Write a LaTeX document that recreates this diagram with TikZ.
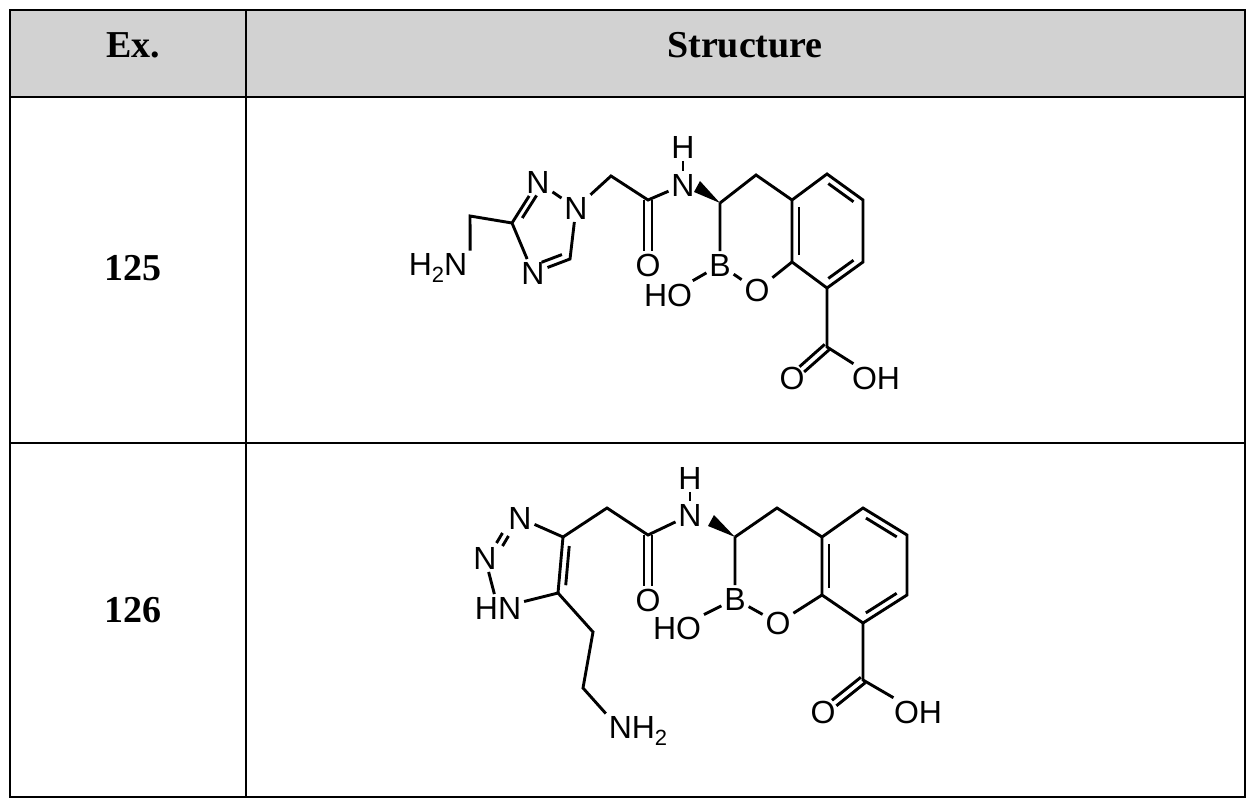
\documentclass[tikz,border=0pt]{standalone}
\usepackage{fontspec}
\setmainfont{Liberation Serif}
\newfontfamily\atomfont{Liberation Sans}
\usetikzlibrary{calc}
\newcommand{\subtwo}{\raisebox{-7pt}{\fontsize{22}{22}\selectfont 2}}
\begin{document}
\begin{tikzpicture}[x=1pt,y=-1pt,line width=2.9pt,
  atom/.style={font=\atomfont\fontsize{32}{32}\selectfont,inner sep=1.5pt},
  hdr/.style={font=\bfseries\fontsize{38}{38}\selectfont}]
\useasboundingbox (0,0) rectangle (1255,810);
% table
\fill[gray!35] (10,10) rectangle (1245,97);
\draw[line width=2pt] (10,10) rectangle (1245,797);
\draw[line width=2pt] (10,97) -- (1245,97) (10,443) -- (1245,443) (246,10) -- (246,797);
\node[hdr] (h1) at (133,45) {Ex.};
\node[hdr] (h2) at (745,45) {Structure};
\node[hdr] (e1) at (133,268) {125};
\node[hdr] (e2) at (133,610) {126};
% ---------- structure 125
\node[atom] (nh2a) at (438,268) {H\subtwo N};
\coordinate (ca1) at (470,216);
\coordinate (t3) at (512,223);
\node[atom] (n2) at (538,182) {N};
\node[atom] (n1) at (576,208) {N};
\coordinate (t5) at (570,259);
\node[atom] (n4) at (533,273) {N};
\coordinate (ca2) at (611,176);
\coordinate (co1) at (648,200);
\node[atom] (o1) at (648,265) {O};
\node[atom] (nam1) at (683,185) {N};
\node[atom] (ham1) at (683,147) {H};
\coordinate (c31) at (720,203);
\coordinate (c41) at (756,175);
\coordinate (a1) at (792,200);
\coordinate (a2) at (827,174);
\coordinate (a3) at (863,200);
\coordinate (a4) at (863,262);
\coordinate (a5) at (827,288);
\coordinate (a6) at (792,262);
\node[atom] (or1) at (757,290) {O};
\node[atom] (b1) at (720,265) {B};
\node[atom] (ho1) at (668,295) {HO};
\coordinate (cc1) at (827,347);
\node[atom] (oc1) at (792,378) {O};
\node[atom] (oh1) at (876,378) {OH};
\draw (nh2a.north east) -- (ca1) -- (t3) -- (n2) -- (n1) -- (t5) -- (n4) -- (t3);
\draw ($(t3)!.2!(n2)!6pt!-90:(n2)$) -- ($(t3)!.75!(n2)!6pt!-90:(n2)$);
\draw ($(t5)!.15!(n4)!7pt!-90:(n4)$) -- ($(t5)!.7!(n4)!7pt!-90:(n4)$);
\draw (n1) -- (ca2) -- (co1) -- (nam1);
\draw (644,200) -- (644,251) (652,200) -- (652,251);
\draw (ham1) -- (nam1);
\fill (720,203) -- (700,181) -- (694,192) -- cycle;
\draw (c31) -- (c41) -- (a1) -- (a2) -- (a3) -- (a4) -- (a5) -- (a6) -- (a1);
\draw (c31) -- (b1) -- (or1) -- (a6);
\draw (b1) -- (ho1);
\draw ($(a1)!.12!(a6)!7pt!90:(a6)$) -- ($(a6)!.12!(a1)!7pt!-90:(a1)$);
\draw ($(a2)!.15!(a3)!7pt!-90:(a3)$) -- ($(a3)!.15!(a2)!7pt!90:(a2)$);
\draw ($(a4)!.15!(a5)!7pt!-90:(a5)$) -- ($(a5)!.15!(a4)!7pt!90:(a4)$);
\draw (a5) -- (cc1) -- (oh1);
\draw ($(cc1)!3.5pt!90:(oc1)$) -- ($(cc1)!.72!(oc1)!3.5pt!90:(oc1)$);
\draw ($(cc1)!3.5pt!-90:(oc1)$) -- ($(cc1)!.72!(oc1)!3.5pt!-90:(oc1)$);
% ---------- structure 126
\node[atom] (m1) at (520,518) {N};
\node[atom] (m2) at (485,558) {N};
\node[atom] (m3) at (498,608) {HN};
\coordinate (s5) at (558,593);
\coordinate (s4) at (563,537);
\coordinate (cb2) at (607,508);
\coordinate (co2) at (648,535);
\node[atom] (o2) at (648,600) {O};
\node[atom] (nam2) at (690,515) {N};
\node[atom] (ham2) at (690,478) {H};
\coordinate (c32) at (735,537);
\coordinate (c42) at (777,508);
\coordinate (b1a) at (822,537);
\coordinate (b2a) at (863,508);
\coordinate (b3a) at (907,535);
\coordinate (b4a) at (907,595);
\coordinate (b5a) at (863,623);
\coordinate (b6a) at (822,595);
\node[atom] (or2) at (778,623) {O};
\node[atom] (b2) at (735,599) {B};
\node[atom] (ho2) at (677,628) {HO};
\coordinate (cc2) at (863,680);
\node[atom] (oc2) at (823,712) {O};
\node[atom] (oh2) at (918,712) {OH};
\coordinate (e1c) at (593,632);
\coordinate (e2c) at (583,688);
\node[atom] (nh2b) at (638,731) {NH\subtwo};
\draw (m2) -- (m3) -- (s5) -- (s4) -- (m1);
\draw ($(m1.south west)+(-3,1)$) -- ($(m2.north east)+(-3,-1)$);
\draw ($(m1.south west)+(3,4)$) -- ($(m2.north east)+(3,2)$);
\draw ($(s4)!.15!(s5)!7pt!90:(s5)$) -- ($(s5)!.15!(s4)!7pt!-90:(s4)$);
\draw (s4) -- (cb2) -- (co2) -- (nam2);
\draw (644,535) -- (644,586) (652,535) -- (652,586);
\draw (ham2) -- (nam2);
\fill (735,537) -- (714,515) -- (708,526) -- cycle;
\draw (c32) -- (c42) -- (b1a) -- (b2a) -- (b3a) -- (b4a) -- (b5a) -- (b6a) -- (b1a);
\draw (c32) -- (b2) -- (or2) -- (b6a);
\draw (b2) -- (ho2);
\draw ($(b1a)!.12!(b6a)!7pt!90:(b6a)$) -- ($(b6a)!.12!(b1a)!7pt!-90:(b1a)$);
\draw ($(b2a)!.15!(b3a)!7pt!-90:(b3a)$) -- ($(b3a)!.15!(b2a)!7pt!90:(b2a)$);
\draw ($(b4a)!.15!(b5a)!7pt!-90:(b5a)$) -- ($(b5a)!.15!(b4a)!7pt!90:(b4a)$);
\draw (b5a) -- (cc2) -- (oh2);
\draw ($(cc2)!3.5pt!90:(oc2)$) -- ($(cc2)!.72!(oc2)!3.5pt!90:(oc2)$);
\draw ($(cc2)!3.5pt!-90:(oc2)$) -- ($(cc2)!.72!(oc2)!3.5pt!-90:(oc2)$);
\draw (s5) -- (e1c) -- (e2c) -- (nh2b.north west);
\end{tikzpicture}
\end{document}
